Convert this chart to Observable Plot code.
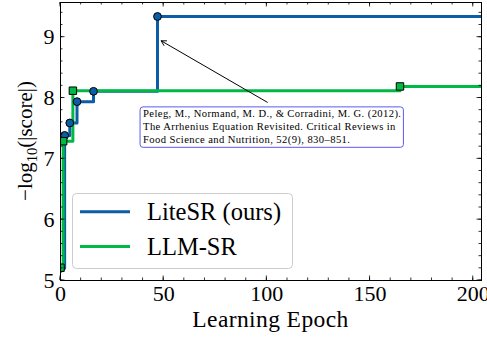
<!DOCTYPE html>
<html><head><meta charset="utf-8">
<script src="https://cdn.jsdelivr.net/npm/d3@7"></script>
<script src="https://cdn.jsdelivr.net/npm/@observablehq/plot@0.6"></script>
<style>
body{margin:0;background:#fff}
svg{display:block}
#chart svg, #chart svg text { font-family: "Liberation Serif", "DejaVu Serif", serif !important; }
</style>
</head><body><div id="chart"></div>
<script>
const liteEpochs = [0, 2, 4.5, 8, 16, 47];
const liteScores = [5.2, 7.385, 7.59, 7.94, 8.11, 9.34];
const llmEpochs = [0, 1.3, 6, 164.5];
const llmScores = [5.21, 7.29, 8.12, 8.19];
const seriesNames = ["LiteSR (ours)", "LLM-SR"];
const seriesColors = ["#0C5DA5", "#00B945"];
const xTicks = [0, 50, 100, 150, 200];
const yTicks = [5, 6, 7, 8, 9];
const xMinor = d3.range(0, 205, 10);
const yMinor = d3.range(5, 9.6, 0.2);
const xDomain = [0, 204];
const yDomain = [5, 9.57];
const xTitle = "Learning Epoch";
const yTitleParts = ["\u2212log", "10", "(|score|)"];
const noteLines = [
  "Peleg, M., Normand, M. D., & Corradini, M. G. (2012).",
  "The Arrhenius Equation Revisited. Critical Reviews in",
  "Food Science and Nutrition, 52(9), 830\u2013851."
];
const noteAnchor = [{epoch: 40.0, score: 7.83}];
const arrowLink = [{fromEpoch: 100.2, fromScore: 7.93, toEpoch: 48.8, toScore: 8.94}];

const lite = liteEpochs.map((e, i) => ({epoch: e, score: liteScores[i]}));
const llm = llmEpochs.map((e, i) => ({epoch: e, score: llmScores[i]}));
const extend = (pts) => [...pts, {epoch: xDomain[1] + 5, score: pts[pts.length - 1].score}];
const FONT = "Liberation Serif";

const plot = Plot.plot({
  width: 487, height: 337,
  marginLeft: 60, marginRight: 6, marginTop: 2, marginBottom: 57,
  x: {domain: xDomain},
  y: {domain: yDomain},
  style: {fontSize: "22px", background: "white", color: "black"},
  marks: [
    Plot.axisX(xTicks, {tickSize: 0, tickPadding: 5, label: null, fontSize: 22, tickFormat: d3.format("d")}),
    Plot.axisY(yTicks, {tickSize: 0, tickPadding: 6, label: null, fontSize: 22, tickFormat: d3.format("d")}),
    Plot.line(extend(lite), {x: "epoch", y: "score", curve: "step-after", stroke: seriesColors[0], strokeWidth: 3, clip: true}),
    Plot.line(extend(llm), {x: "epoch", y: "score", curve: "step-after", stroke: seriesColors[1], strokeWidth: 3, clip: true}),
    Plot.dot(lite, {x: "epoch", y: "score", r: 3.9, fill: seriesColors[0], stroke: "black", strokeWidth: 1, clip: true}),
    Plot.dot(llm, {x: "epoch", y: "score", symbol: "square", r: 4.2, fill: seriesColors[1], stroke: "black", strokeWidth: 1, clip: true}),
    Plot.arrow(arrowLink, {x1: "fromEpoch", y1: "fromScore", x2: "toEpoch", y2: "toScore", stroke: "black", strokeWidth: 1, headLength: 8}),
    Plot.text(noteAnchor, {x: "epoch", y: "score", text: () => noteLines.join("\n"), textAnchor: "start", lineAnchor: "top", fontSize: 10.6, lineHeight: 1.2, fill: "black"}),
    Plot.frame({stroke: "black", strokeWidth: 1})
  ]
});
document.getElementById("chart").appendChild(plot);

const svg = d3.select(plot);
const sx = plot.scale("x"), sy = plot.scale("y");
const X = v => sx.apply(v), Y = v => sy.apply(v);
const pLeft = X(xDomain[0]), pRight = X(xDomain[1]), pBottom = Y(yDomain[0]), pTop = Y(yDomain[1]);

// annotation box
const noteText = svg.selectAll("text").filter(function() { return this.textContent.includes("Peleg"); });
noteText.each(function() {
  this.setAttribute("letter-spacing", "0.4");
  const bb = this.getBBox();
  const r = d3.select(this.parentNode).insert("rect", () => this)
    .attr("x", bb.x - 3).attr("y", bb.y - 1.5).attr("width", bb.width + 5).attr("height", bb.height + 3)
    .attr("rx", 3).attr("fill", "white").attr("stroke", "#5a5af2").attr("stroke-width", 1);
  const tr = this.getAttribute("transform");
  if (tr) r.attr("transform", tr);
});

// inward ticks on all four sides
const tk = svg.append("g").attr("stroke", "black").attr("stroke-width", 0.8);
function xt(v, len) {
  tk.append("line").attr("x1", X(v)).attr("x2", X(v)).attr("y1", pBottom).attr("y2", pBottom - len);
  tk.append("line").attr("x1", X(v)).attr("x2", X(v)).attr("y1", pTop).attr("y2", pTop + len);
}
function yt(v, len) {
  tk.append("line").attr("y1", Y(v)).attr("y2", Y(v)).attr("x1", pLeft).attr("x2", pLeft + len);
  tk.append("line").attr("y1", Y(v)).attr("y2", Y(v)).attr("x1", pRight).attr("x2", pRight - len);
}
xMinor.forEach(v => xt(v, 2.5));
xTicks.forEach(v => xt(v, 4.5));
yMinor.forEach(v => yt(v, 2.5));
yTicks.forEach(v => yt(v, 4.5));

// axis titles
svg.append("text").attr("x", (pLeft + pRight) / 2).attr("y", 327).attr("text-anchor", "middle")
  .attr("font-family", FONT).attr("font-size", 23.5).attr("letter-spacing", 0.4).attr("fill", "black").text(xTitle);
const yTitle = svg.append("text").attr("transform", `translate(32,${(pTop + pBottom) / 2}) rotate(-90)`)
  .attr("text-anchor", "middle").attr("font-family", FONT).attr("font-size", 21).attr("fill", "black");
yTitle.append("tspan").text(yTitleParts[0]);
yTitle.append("tspan").attr("dy", 4.5).attr("font-size", 14.5).text(yTitleParts[1]);
yTitle.append("tspan").attr("dy", -4.5).text(yTitleParts[2]);

// legend
const lg = svg.append("g");
lg.append("rect").attr("x", 72.5).attr("y", 193.5).attr("width", 220).attr("height", 75).attr("rx", 4)
  .attr("fill", "white").attr("fill-opacity", 0.85).attr("stroke", "#cccccc").attr("stroke-width", 1);
seriesNames.forEach((name, i) => {
  const cy = 211.7 + i * 34.8;
  lg.append("line").attr("x1", 80).attr("x2", 130).attr("y1", cy).attr("y2", cy)
    .attr("stroke", seriesColors[i]).attr("stroke-width", 3);
  lg.append("text").attr("x", 147).attr("y", cy + 8.5).attr("text-anchor", "start")
    .attr("font-family", FONT).attr("font-size", 24.5).attr("fill", "black").text(name);
});
</script>
</body></html>
